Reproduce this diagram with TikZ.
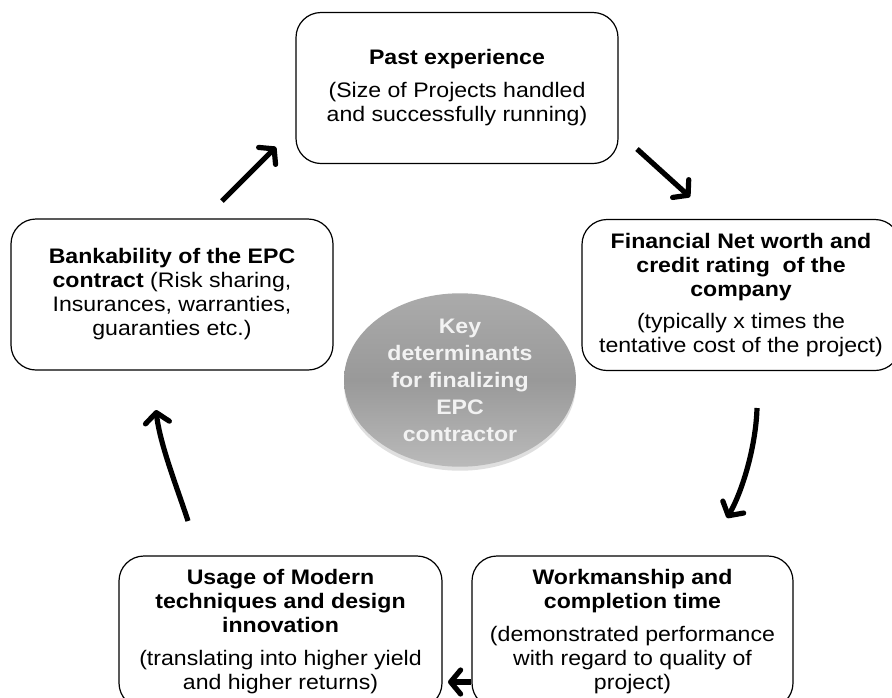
\documentclass[tikz,border=0pt]{standalone}
\usepackage{fontspec}
\setmainfont[FakeStretch=1.1]{Liberation Sans}
\usetikzlibrary{arrows.meta,shadows,shapes.geometric}
\tikzset{
  box/.style={draw=black, line width=1.2pt, rounded corners=25pt, fill=white,
    align=center, inner sep=0pt, minimum height=151pt,
    font=\fontsize{21}{24}\selectfont},
  flow/.style={line width=5.2pt, -{Straight Barb[length=10pt,width=24pt,round]}},
  keyell/.style={ellipse, draw=none, minimum width=232pt, minimum height=170pt,
    inner sep=0pt, align=center, text=white!95!black,
    top color=black!33, bottom color=black!27, middle color=black!40,
    drop shadow={opacity=0.25, shadow xshift=0pt, shadow yshift=-4pt},
    font=\fontsize{21}{27}\selectfont\bfseries},
}
\begin{document}
\begin{tikzpicture}[x=1pt,y=-1pt]
\useasboundingbox (0,0) rectangle (892,697);
\clip (0,0) rectangle (892,697);
\fill[white] (0,0) rectangle (892,697);

\node[box, minimum width=322pt] (past) at (457,88)
  {\textbf{Past experience}\\[9pt](Size of Projects handled\\and successfully running)};
\node[box, minimum width=318pt] (fin) at (741,295)
  {\textbf{Financial Net worth and}\\\textbf{credit rating\ \ of the}\\\textbf{company}\\[8pt](typically x times the\\tentative cost of the project)};
\node[box, minimum width=322pt] (bank) at (172,294.5)
  {\textbf{Bankability of the EPC}\\\textbf{contract} (Risk sharing,\\Insurances, warranties,\\guaranties etc.)};
\node[box, minimum width=323pt, minimum height=152pt] (usage) at (280.5,632)
  {\textbf{Usage of Modern}\\\textbf{techniques and design}\\\textbf{innovation}\\[9pt](translating into higher yield\\and higher returns)};
\node[box, minimum width=321pt, minimum height=152pt] (work) at (632.5,632)
  {\textbf{Workmanship and}\\\textbf{completion time}\\[9pt](demonstrated performance\\with regard to quality of\\project)};

\node[keyell] (key) at (460,380)
  {Key\\determinants\\for finalizing\\EPC\\contractor};

\coordinate (a1s) at (222,201);
\coordinate (a1e) at (276,147);
\coordinate (a2s) at (637,149);
\coordinate (a2e) at (690,197);
\coordinate (a3s) at (757,408);
\coordinate (a3e) at (727,518);
\coordinate (a4s) at (471,682);
\coordinate (a4e) at (448,682);
\coordinate (a5s) at (188,521);
\coordinate (a5e) at (156,410);

\draw[flow] (a1s) -- (a1e);
\draw[flow] (a2s) -- (a2e);
\draw[flow] (a3s) .. controls (756,445) and (743,490) .. (a3e);
\draw[flow] (a4s) -- (a4e);
\draw[flow] (a5s) .. controls (178,490) and (160,445) .. (a5e);
\end{tikzpicture}
\end{document}
